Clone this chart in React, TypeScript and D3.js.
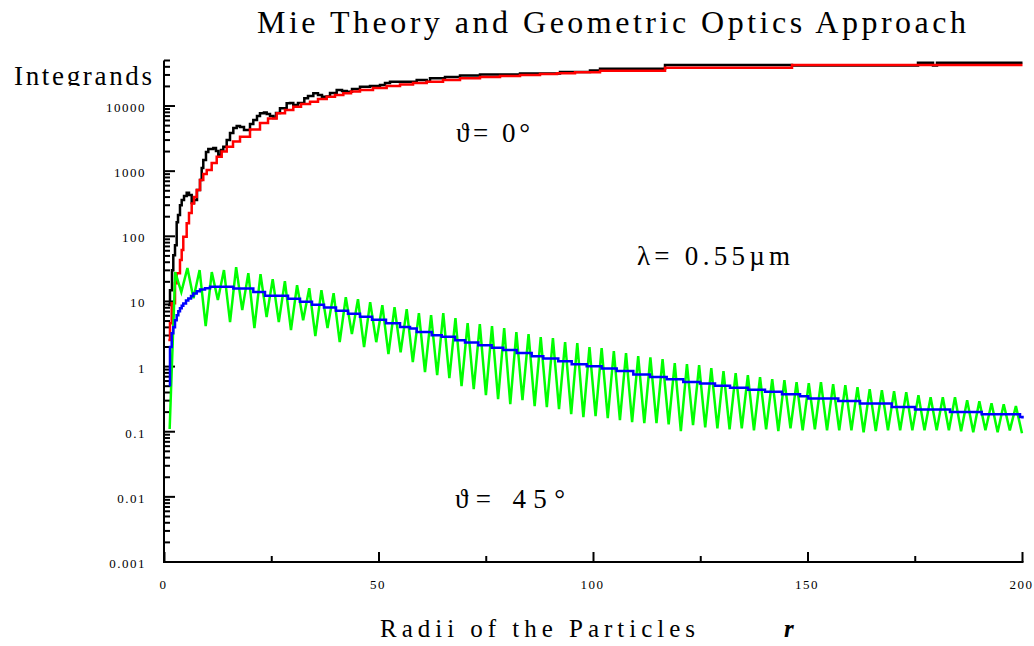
import React from 'react';
import * as d3 from 'd3';

const W = 1034;
const H = 646;
const SERIF = '"Liberation Serif", "Times New Roman", serif';

// Mie theory integrand, scattering angle 0°
const mie0R = [0.82, 1.28, 1.75, 2.05, 2.45, 2.84, 3.15, 3.61, 4.01, 4.55, 5.17, 5.71, 6.34, 6.88, 7.58, 8.28, 8.67, 9.04, 9.67, 10.21, 11.38, 12.0, 12.54, 13.17, 13.71, 14.5, 15.27, 16.04, 16.83, 17.6, 18.53, 19.16, 19.93, 20.7, 21.56, 22.26, 23.19, 23.82, 24.59, 25.36, 25.99, 26.92, 28.48, 29.25, 30.02, 31.12, 32.59, 33.45, 34.69, 35.78, 36.71, 37.81, 38.58, 40.14, 41.38, 42.47, 43.71, 45.57, 47.9, 50.23, 51.4, 52.56, 58.79, 61.12, 61.89, 65.38, 68.88, 73.54, 82.87, 92.19, 99.18, 101.52, 116.67, 146.27, 175.64, 179.14, 180.07, 200];
const mie0V = [8.8, 14.9, 30, 51, 73, 165, 212, 301, 360, 415, 466, 430, 324, 360, 513, 730, 1117, 1483, 1965, 2185, 2264, 2036, 1767, 2109, 2371, 3006, 3846, 4592, 4931, 4757, 4277, 4277, 5290, 6095, 7020, 7727, 7946, 7540, 7020, 6543, 7806, 9220, 11000, 11120, 10360, 11120, 13130, 14240, 15660, 14750, 13900, 13990, 15850, 17620, 17000, 16580, 18240, 19800, 20280, 21020, 22550, 23620, 25080, 23620, 26650, 27900, 29410, 30480, 31570, 33290, 35110, 37410, 42660, 41880, 46240, 41880, 46240, 46240];

// Geometric optics integrand, scattering angle 0°
const geo0R = [0.89, 1.28, 1.68, 2.45, 2.84, 3.61, 4.01, 4.38, 5.17, 5.71, 6.34, 6.88, 7.51, 8.28, 9.04, 9.84, 11.0, 12.17, 13.33, 14.5, 15.97, 17.6, 19.93, 22.26, 24.13, 26.15, 28.09, 30.02, 31.82, 33.92, 35.78, 37.81, 39.74, 41.68, 43.48, 45.57, 48.6, 51.79, 54.9, 57.93, 61.12, 64.92, 68.88, 73.54, 78.21, 82.87, 87.53, 91.49, 95.69, 101.52, 116.67, 146.27, 200];
const geo0V = [2.55, 4.64, 9.42, 19.1, 27.2, 43.1, 61.4, 98.2, 158, 227, 320, 400, 513, 730, 903, 1040, 1332, 1665, 2000, 2371, 2850, 3377, 4355, 5480, 6427, 7727, 8680, 9755, 10730, 11640, 12810, 13900, 14750, 15660, 16640, 17620, 18900, 20280, 21400, 22560, 23620, 25120, 26650, 27900, 28890, 29920, 31010, 31900, 32940, 34850, 38760, 42660, 42660];

// Geometric optics integrand, scattering angle 45°
const geo45R = [1.05, 1.28, 1.68, 2.05, 2.45, 2.84, 3.22, 3.61, 4.01, 4.38, 5.01, 5.55, 6.18, 6.71, 7.51, 8.28, 9.44, 10.61, 16.04, 20.7, 23.43, 28.79, 31.59, 34.38, 37.18, 39.98, 42.77, 45.57, 48.37, 51.63, 54.9, 57.23, 58.79, 62.28, 64.62, 67.72, 70.05, 73.15, 76.27, 78.97, 82.1, 85.59, 88.3, 91.79, 94.92, 98.41, 101.91, 105.41, 109.28, 113.17, 117.06, 120.93, 124.83, 128.32, 131.82, 136.01, 139.98, 143.94, 148.14, 150.07, 157.06, 162.12, 169.51, 174.94, 183.1, 190.49, 199.42, 200];
const geo45V = [0.518, 1.99, 3.26, 4.03, 5.16, 6.16, 7.10, 7.89, 8.62, 9.31, 10.3, 11.1, 12.1, 13.3, 14.4, 15.3, 16.0, 16.8, 15.8, 14.0, 12.2, 11.0, 9.93, 8.93, 8.04, 7.22, 6.50, 5.84, 5.25, 4.64, 4.07, 3.85, 3.41, 3.04, 2.86, 2.54, 2.35, 2.13, 1.94, 1.79, 1.62, 1.44, 1.33, 1.21, 1.09, 1.01, 0.935, 0.859, 0.756, 0.695, 0.641, 0.582, 0.550, 0.509, 0.474, 0.442, 0.412, 0.377, 0.351, 0.324, 0.297, 0.271, 0.240, 0.219, 0.201, 0.186, 0.169, 0.160];

// Mie theory integrand, scattering angle 45°: successive maxima and minima
// sampled every half oscillation, starting at mie45R0
const mie45FirstR = 1.2;
const mie45FirstV = 0.11;
const mie45R0 = 2.5;
const mie45HalfPeriod = 1.42;
const mie45Peaks = [28.2, 32.5, 30.3, 28.2, 30.3, 33.7, 27.2, 26.3, 22.0, 20.5, 17.8, 16.0, 14.9, 13.4, 11.6, 10.8, 9.75, 8.77, 8.17, 7.62, 6.61, 6.16, 6.61, 5.53, 4.64, 4.48, 4.18, 3.89, 3.37, 3.15, 2.83, 2.73, 2.37, 2.29, 1.99, 1.92, 1.73, 1.61, 1.45, 1.39, 1.30, 1.13, 1.09, 1.05, 0.944, 0.849, 0.792, 0.738, 0.687, 0.640, 0.618, 0.575, 0.556, 0.575, 0.537, 0.518, 0.483, 0.450, 0.434, 0.419, 0.405, 0.364, 0.339, 0.339, 0.339, 0.305, 0.294, 0.274, 0.264, 0.247];
const mie45Troughs = [13.9, 11.2, 4.18, 10.5, 4.81, 7.35, 3.89, 5.74, 4.81, 3.62, 5.16, 2.93, 3.89, 2.37, 3.15, 1.99, 2.37, 1.55, 1.66, 1.17, 0.820, 0.738, 0.664, 0.500, 0.450, 0.364, 0.316, 0.264, 0.305, 0.247, 0.238, 0.222, 0.186, 0.167, 0.173, 0.161, 0.150, 0.140, 0.135, 0.135, 0.130, 0.102, 0.126, 0.117, 0.113, 0.109, 0.113, 0.105, 0.109, 0.102, 0.113, 0.105, 0.109, 0.105, 0.105, 0.105, 0.098, 0.102, 0.105, 0.105, 0.105, 0.105, 0.105, 0.105, 0.102, 0.098, 0.105, 0.098, 0.105, 0.095];

const yTickValues = [0.001, 0.01, 0.1, 1, 10, 100, 1000, 10000];
const yTickLabels = ['0.001', '0.01', '0.1', '1', '10', '100', '1000', '10000'];
const xTickValues = [0, 50, 100, 150, 200];
const xMinorValues = [25, 75, 125, 175];

type Pt = [number, number];
const zip = (rs: number[], vs: number[]): Pt[] => rs.map((r, i) => [r, vs[i]] as Pt);

export default function App() {
  const x = d3.scaleLinear().domain([0, 200]).range([164.5, 1022.5]);
  const y = d3.scaleLog().domain([0.001, 50000]).range([562, 60.5]);

  const stepLine = d3
    .line<Pt>()
    .x((d) => x(d[0]))
    .y((d) => y(d[1]))
    .curve(d3.curveStepAfter);
  const plainLine = d3
    .line<Pt>()
    .x((d) => x(d[0]))
    .y((d) => y(d[1]));

  const mie45Pts: Pt[] = [[mie45FirstR, mie45FirstV]];
  mie45Peaks.forEach((p, k) => {
    mie45Pts.push([mie45R0 + 2 * k * mie45HalfPeriod, p]);
    mie45Pts.push([mie45R0 + (2 * k + 1) * mie45HalfPeriod, mie45Troughs[k]]);
  });

  // log-axis ticks: decades plus 2..9 minors, up to the top of the domain
  const yTicks: { v: number; major: boolean }[] = [];
  for (let e = -3; e <= 4; e++) {
    for (let m = 1; m <= 9; m++) {
      const v = m * Math.pow(10, e);
      if (v <= 50000 * 1.0001) yTicks.push({ v, major: m === 1 });
    }
  }

  const x0 = x(0) - 0.5;
  const yBottom = y(0.001);
  const yTop = y(50000);

  return (
    <svg
      width={W}
      height={H}
      viewBox={`0 0 ${W} ${H}`}
      style={{ position: 'absolute', left: 0, top: 0, background: '#fff' }}
    >
      <defs>
        <clipPath id="ylabel-clip">
          <rect x={0} y={0} width={160} height={86} />
        </clipPath>
      </defs>
      <rect width={W} height={H} fill="#fff" />

      {/* title */}
      <text x={257} y={33} fontFamily={SERIF} fontSize={32} textLength={709} lengthAdjust="spacing" fill="#000">
        Mie Theory and Geometric Optics Approach
      </text>

      {/* y axis */}
      <line x1={x0} x2={x0} y1={yTop} y2={yBottom + 1} stroke="#000" strokeWidth={2} />
      {yTicks.map((t, i) => (
        <line
          key={`yt${i}`}
          x1={x0}
          x2={x0 + (t.major ? 11 : 6)}
          y1={y(t.v)}
          y2={y(t.v)}
          stroke="#000"
          strokeWidth={2}
        />
      ))}
      {yTickValues.map((v, i) => (
        <text
          key={`yl${i}`}
          x={146}
          y={y(v) + 6}
          textAnchor="end"
          fontFamily={SERIF}
          fontSize={13}
          letterSpacing={1.5}
          fill="#000"
        >
          {yTickLabels[i]}
        </text>
      ))}
      <text
        x={14}
        y={85}
        fontFamily={SERIF}
        fontSize={27}
        textLength={138}
        lengthAdjust="spacing"
        clipPath="url(#ylabel-clip)"
        fill="#000"
      >
        Integrands
      </text>

      {/* x axis */}
      <line x1={x0 - 1} x2={x(200) + 1} y1={yBottom} y2={yBottom} stroke="#000" strokeWidth={2} />
      {xTickValues.map((v) => (
        <line key={`xt${v}`} x1={x(v)} x2={x(v)} y1={yBottom} y2={yBottom - 10} stroke="#000" strokeWidth={2} />
      ))}
      {xMinorValues.map((v) => (
        <line key={`xm${v}`} x1={x(v)} x2={x(v)} y1={yBottom} y2={yBottom - 6} stroke="#000" strokeWidth={2} />
      ))}
      {xTickValues.map((v) => (
        <text
          key={`xl${v}`}
          x={x(v) - 1}
          y={589}
          textAnchor="middle"
          fontFamily={SERIF}
          fontSize={13}
          letterSpacing={1.5}
          fill="#000"
        >
          {String(v)}
        </text>
      ))}
      <text x={380} y={637} fontFamily={SERIF} fontSize={25} textLength={315} lengthAdjust="spacing" fill="#000">
        Radii of the Particles
      </text>
      <text x={784} y={637} fontFamily={SERIF} fontSize={25} fontWeight="bold" fontStyle="italic" fill="#000">
        r
      </text>

      {/* series */}
      <path d={stepLine(zip(mie0R, mie0V)) || ''} fill="none" stroke="#000" strokeWidth={2.5} />
      <path d={stepLine(zip(geo0R, geo0V)) || ''} fill="none" stroke="#ff0000" strokeWidth={2.5} />
      <path d={plainLine(mie45Pts) || ''} fill="none" stroke="#00ff00" strokeWidth={2.5} strokeLinejoin="miter" />
      <path d={stepLine(zip(geo45R, geo45V)) || ''} fill="none" stroke="#0000ff" strokeWidth={2.5} />

      {/* annotations */}
      <text x={456} y={142} fontFamily={SERIF} fontSize={27} textLength={74} lengthAdjust="spacing" fill="#000">
        ϑ= 0°
      </text>
      <text x={637} y={265} fontFamily={SERIF} fontSize={27} textLength={153} lengthAdjust="spacing" fill="#000">
        λ= 0.55µm
      </text>
      <text x={455} y={508} fontFamily={SERIF} fontSize={27} textLength={110} lengthAdjust="spacing" fill="#000">
        ϑ= 45°
      </text>
    </svg>
  );
}
